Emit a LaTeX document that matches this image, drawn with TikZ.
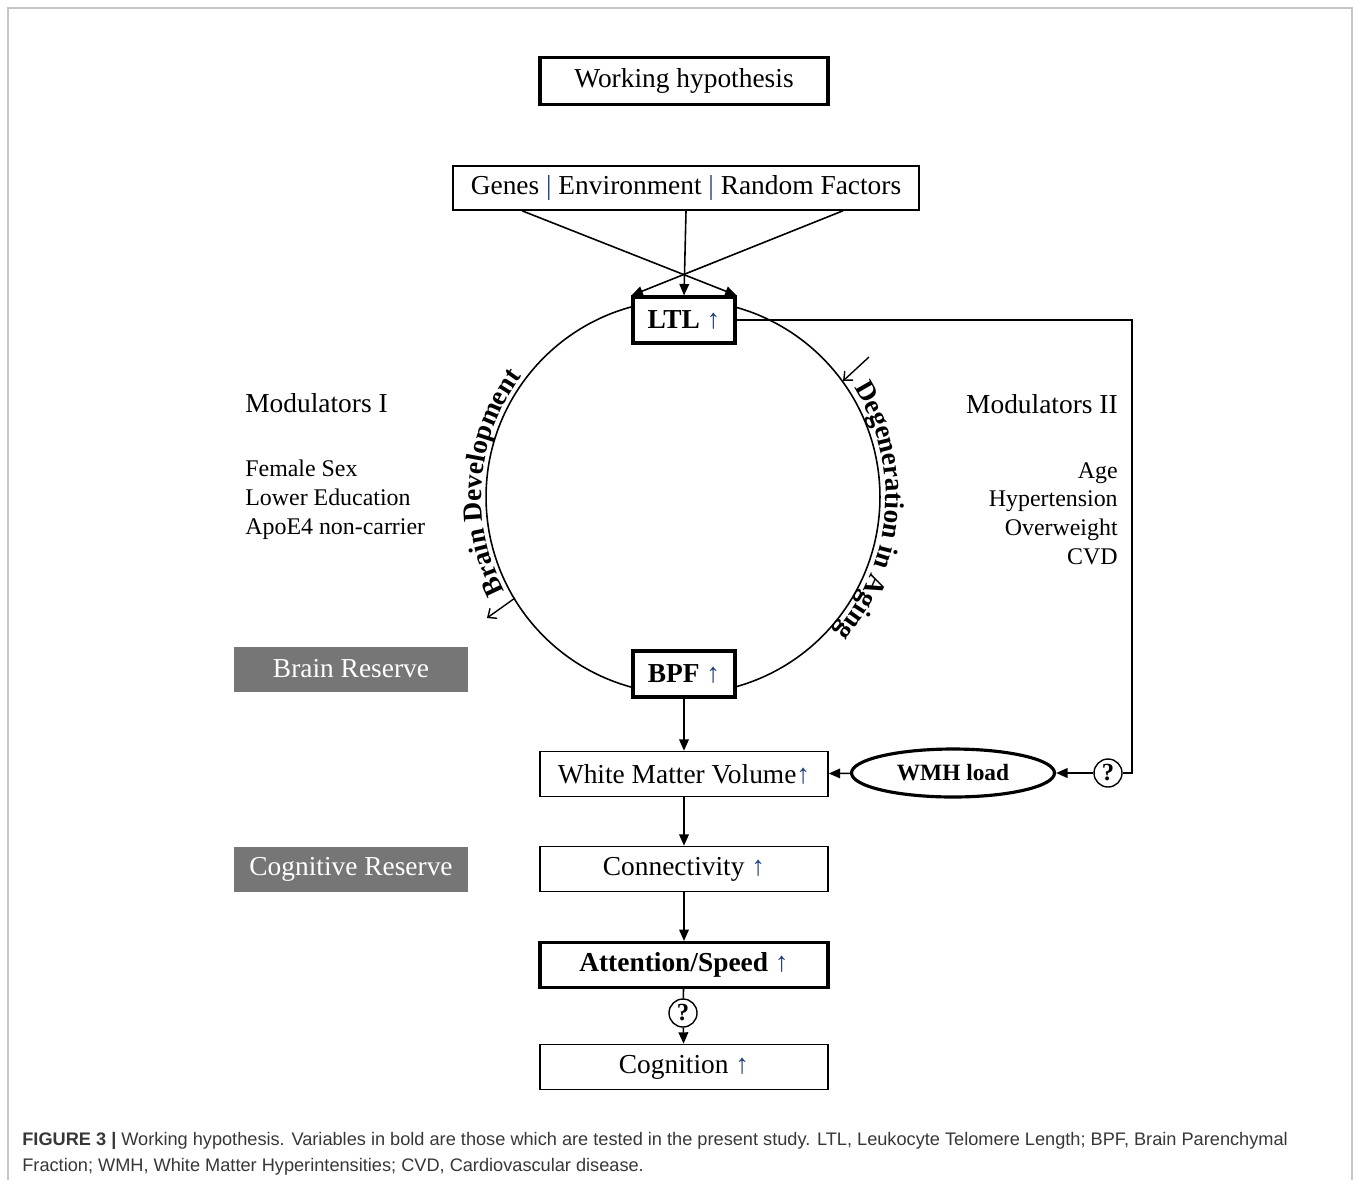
\documentclass[tikz,border=0pt]{standalone}
\usepackage{fontspec}
\setmainfont{Liberation Serif}
\newfontfamily\capsans{Liberation Sans}
\usepackage{xcolor}
\usetikzlibrary{shapes.geometric, arrows.meta, positioning, decorations.text}
\definecolor{upblue}{RGB}{30,60,120}
\definecolor{resgray}{RGB}{118,118,118}
\definecolor{capgray}{RGB}{55,55,55}
\newcommand{\upar}{\textcolor{upblue}{↑}}

\begin{document}
\begin{tikzpicture}[
    x=0.02cm, y=-0.02cm,
    font=\fontsize{15.6}{16.4}\selectfont,
    box/.style={rectangle, draw=black, line width=0.9pt, fill=white, minimum width=5.76cm, minimum height=0.9cm, inner sep=2pt},
    boldbox/.style={box, line width=1.8pt},
    smallbox/.style={rectangle, draw=black, line width=1.8pt, fill=white, minimum width=2.04cm, minimum height=0.92cm, font=\fontsize{15.6}{16.4}\selectfont\bfseries},
    reserve/.style={rectangle, fill=resgray, text=white, minimum width=4.7cm, minimum height=0.9cm},
    qmark/.style={circle, draw=black, line width=0.8pt, fill=white, minimum size=0.56cm, inner sep=0pt, font=\fontsize{14}{14}\selectfont\bfseries},
    modlist/.style={inner sep=0pt, font=\fontsize{13.6}{16.4}\selectfont},
    arrow/.style={-{Triangle[length=6.5pt, width=5.5pt]}, line width=0.9pt},
    turnarrow/.style={-{Straight Barb[length=4pt, width=7pt]}, line width=0.8pt}
]
\useasboundingbox (0,0) rectangle (1354,1180);
\draw[gray!45, line width=0.8pt] (8,1180) -- (8,8) -- (1352,8) -- (1352,1180);

% the cycle between LTL and BPF
\coordinate (centre) at (683,497);
\draw[line width=0.9pt] (centre) circle[radius=3.94cm];
\path[decorate, decoration={text along path, text align=center, text={|\fontsize{15.6}{16}\selectfont\bfseries|Brain Development}}]
    ([shift={(211:4.03cm)}]centre) arc[start angle=211, end angle=140, radius=4.03cm];
\path[decorate, decoration={text along path, text align=center, text={|\fontsize{15.6}{16}\selectfont\bfseries|Degeneration in Aging}}]
    ([shift={(34:4.06cm)}]centre) arc[start angle=34, end angle=-43, radius=4.06cm];

\node[boldbox, minimum height=0.94cm] (hyp) at (684,81) {Working hypothesis};
\node[box, minimum width=9.32cm, minimum height=0.88cm] (genes) at (686,188) {Genes \textcolor{upblue}{|} Environment \textcolor{upblue}{|} Random Factors};

\node[smallbox] (ltl) at (684,320) {LTL \upar};
\node[smallbox] (bpf) at (684,674) {BPF \upar};

\node[box] (wmv) at (684,774) {White Matter Volume\upar};
\node[box] (conn) at (684,869) {Connectivity \upar};
\node[boldbox, font=\fontsize{15.6}{16.4}\selectfont\bfseries] (att) at (684,965) {Attention/Speed \upar};
\node[qmark] (q2) at (683,1013) {?};
\node[box] (cog) at (684,1067) {Cognition \upar};

\node[ellipse, draw=black, line width=1.8pt, fill=white, minimum width=4.06cm, minimum height=0.96cm, font=\fontsize{13.3}{14}\selectfont\bfseries] (wmh) at (953,773) {WMH load};
\node[qmark] (q1) at (1108,773) {?};

\node[reserve] (brainres) at (351,669) {Brain Reserve};
\node[reserve] (cogres) at (351,869) {Cognitive Reserve};

\node[anchor=base west, inner sep=0pt] (modone) at (245,412) {Modulators I};
\node[modlist, anchor=north west, align=left] (modonelist) at (245,460) {Female Sex\\Lower Education\\ApoE4 non-carrier};
\node[anchor=base east, inner sep=0pt] (modtwo) at (1118,413) {Modulators II};
\node[modlist, anchor=north east, align=right] (modtwolist) at (1118,462) {Age\\Hypertension\\Overweight\\CVD};

\draw[arrow] ([xshift=-3.28cm]genes.south) -- (ltl.north east);
\draw[arrow] (genes.south) -- (ltl.north);
\draw[arrow] ([xshift=3.14cm]genes.south) -- (ltl.north west);

\coordinate (turn) at (1132,320);
\draw[line width=0.9pt] (ltl.east) -- (turn) |- (q1.east);
\draw[arrow] (q1) -- (wmh);
\draw[arrow] (wmh) -- (wmv);

\draw[arrow] (bpf) -- (wmv);
\draw[arrow] (wmv) -- (conn);
\draw[arrow] (conn) -- (att);
\draw[line width=0.9pt] (att) -- (q2);
\draw[arrow] (q2) -- (cog);

\coordinate (devfrom) at (515,598);
\coordinate (devto) at (487,618);
\coordinate (degfrom) at (869,357);
\coordinate (degto) at (843,381);
\draw[turnarrow] (devfrom) -- (devto);
\draw[turnarrow] (degfrom) -- (degto);

\node[anchor=north west, inner sep=0pt, align=left, text=capgray, font=\capsans\fontsize{10.35}{14.5}\selectfont] (caption) at (22,1132)
    {{\bfseries FIGURE 3 |} Working hypothesis. Variables in bold are those which are tested in the present study. LTL, Leukocyte Telomere Length; BPF, Brain Parenchymal\\Fraction; WMH, White Matter Hyperintensities; CVD, Cardiovascular disease.};

\end{tikzpicture}
\end{document}
